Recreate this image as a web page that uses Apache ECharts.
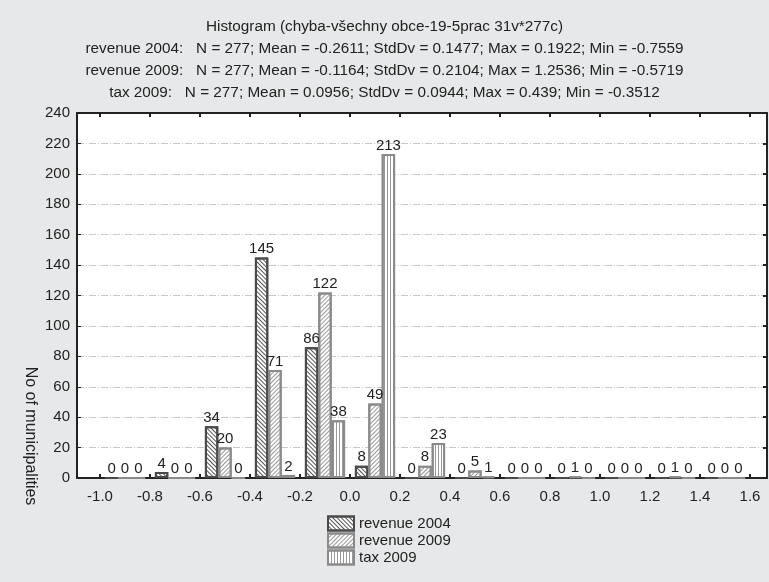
<!DOCTYPE html>
<html>
<head>
<meta charset="utf-8">
<script src="https://cdn.jsdelivr.net/npm/echarts@6/dist/echarts.min.js"></script>
<style>html,body{margin:0;padding:0;background:#e7e8e9;}#c{width:769px;height:582px;}</style>
</head>
<body>
<div id="c"></div>
<script>
var binCenters = [-0.9, -0.7, -0.5, -0.3, -0.1, 0.1, 0.3, 0.5, 0.7, 0.9, 1.1, 1.3, 1.5];
var revenue2004 = [0, 4, 34, 145, 86, 8, 0, 0, 0, 0, 0, 0, 0];
var revenue2009 = [0, 0, 20, 71, 122, 49, 8, 5, 0, 1, 0, 1, 0];
var tax2009     = [0, 0, 0, 2, 38, 213, 23, 1, 0, 0, 0, 0, 0];
var xTicks = [-1.0, -0.8, -0.6, -0.4, -0.2, 0.0, 0.2, 0.4, 0.6, 0.8, 1.0, 1.2, 1.4, 1.6];
var seriesNames = ['revenue 2004', 'revenue 2009', 'tax 2009'];
var titleLines = [
  'Histogram (chyba-všechny obce-19-5prac 31v*277c)',
  'revenue 2004:   N = 277; Mean = -0.2611; StdDv = 0.1477; Max = 0.1922; Min = -0.7559',
  'revenue 2009:   N = 277; Mean = -0.1164; StdDv = 0.2104; Max = 1.2536; Min = -0.5719',
  'tax 2009:   N = 277; Mean = 0.0956; StdDv = 0.0944; Max = 0.439; Min = -0.3512'
];
var yName = 'No of municipalities';

var FONT = 'Liberation Sans, Arial, sans-serif';
function pairs(vals){ return binCenters.map(function(x,i){ return [x, vals[i]]; }); }

var styles = [
  {border:'#4a4a4a', line:'#555', rot: Math.PI/4, dx:[1,0], dy:[1,2]},
  {border:'#8a8a8a', line:'#999', rot: -Math.PI/4, dx:[1,0], dy:[1,2]},
  {border:'#8a8a8a', line:'#999', rot: 0, dx:[1,2], dy:[1,0]}
];
var allVals = [revenue2004, revenue2009, tax2009];

var series = allVals.map(function(v, i){
  var s = styles[i];
  return {
    name: seriesNames[i],
    type: 'bar',
    data: pairs(v),
    barGap: '0%',
    barWidth: 13.4,
    itemStyle: {
      color: '#ffffff',
      borderColor: s.border,
      borderWidth: 2,
      decal: {symbol:'rect', symbolSize:1, color:s.line, dashArrayX:s.dx, dashArrayY:s.dy, rotation:s.rot}
    },
    label: {show:true, position:'top', distance:1, color:'#222', fontSize:15, fontFamily:FONT,
      formatter: function(p){ return p.value[1]; }},
    emphasis: {disabled:true},
    animation: false
  };
});

var chart = echarts.init(document.getElementById('c'), null, {renderer:'canvas'});
chart.setOption({
  backgroundColor: '#e7e8e9',
  animation: false,
  title: {
    text: titleLines.join('\n'),
    left: 'center', top: 16, padding: 0,
    textStyle: {fontSize:15.3, fontWeight:'normal', color:'#222', fontFamily:FONT, lineHeight:21.8}
  },
  legend: {
    orient: 'vertical', left: 327, top: 515, padding: 0,
    itemWidth: 26, itemHeight: 14, itemGap: 0, icon: 'rect',
    textStyle: {fontSize:15, color:'#222', fontFamily:FONT, lineHeight:17},
    data: seriesNames
  },
  grid: {left:77, top:113, right:2, bottom:104, show:true, backgroundColor:'#ffffff', borderColor:'#222', borderWidth:1},
  xAxis: [{
    type:'value', min:-1.092, max:1.668,
    axisLine:{show:true, onZero:false, lineStyle:{color:'#222', width:2}},
    axisTick:{show:true, inside:true, length:4, customValues:xTicks, lineStyle:{color:'#222', width:2}},
    axisLabel:{customValues:xTicks, formatter:function(v){return v.toFixed(1);}, color:'#222', fontSize:15, fontFamily:FONT, margin:11},
    splitLine:{show:false}
  },{
    type:'value', position:'top', min:-1.092, max:1.668,
    axisLine:{show:true, onZero:false, lineStyle:{color:'#222', width:2}},
    axisTick:{show:true, inside:true, length:4, customValues:xTicks, lineStyle:{color:'#222', width:2}},
    axisLabel:{show:false}, splitLine:{show:false}
  }],
  yAxis: [{
    type:'value', min:0, max:240, interval:20,
    axisLine:{show:true, onZero:false, lineStyle:{color:'#222', width:2}},
    axisTick:{show:true, inside:true, length:4, lineStyle:{color:'#222', width:1}},
    axisLabel:{color:'#222', fontSize:15, fontFamily:FONT, margin:7},
    splitLine:{show:true, lineStyle:{color:'#c8c8c8', width:1, type:[7,2,1,2]}}
  },{
    type:'value', position:'right', min:0, max:240, interval:20,
    axisLine:{show:true, onZero:false, lineStyle:{color:'#222', width:2}},
    axisTick:{show:true, inside:true, length:4, lineStyle:{color:'#222', width:2}},
    axisLabel:{show:false}, splitLine:{show:false}
  }],
  graphic: [{
    type:'text', x:30, y:436, rotation:-Math.PI/2,
    style:{text:yName, fill:'#222', font:'16px ' + FONT, align:'center', verticalAlign:'middle'}
  }],
  series: series
});
</script>
</body>
</html>
